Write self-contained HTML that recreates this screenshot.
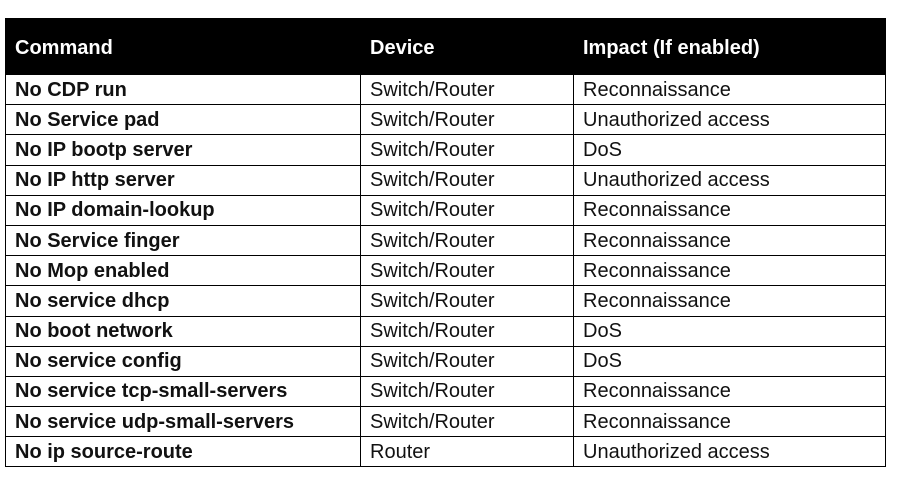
<!DOCTYPE html>
<html><head><style>
body{margin:0;background:#fff;width:905px;height:487px;overflow:hidden;font-family:"Liberation Sans",sans-serif;}
table{position:absolute;left:5px;top:18px;border-collapse:collapse;width:880px;table-layout:fixed;}
td,th{border:1px solid #000;padding:0 0 0 9px;font-size:20px;line-height:22px;text-align:left;height:29.2px;white-space:nowrap;color:#111;overflow:hidden;}
th{background:#000;color:#fff;height:53px;font-weight:bold;padding-top:2px;border-color:#000;}
td:first-child{font-weight:bold;}
</style></head><body>
<table>
<colgroup><col style="width:355px"><col style="width:213px"><col style="width:312px"></colgroup>
<tr><th>Command</th><th>Device</th><th>Impact (If enabled)</th></tr>
<tr><td>No CDP run</td><td>Switch/Router</td><td>Reconnaissance</td></tr>
<tr><td>No Service pad</td><td>Switch/Router</td><td>Unauthorized access</td></tr>
<tr><td>No IP bootp server</td><td>Switch/Router</td><td>DoS</td></tr>
<tr><td>No IP http server</td><td>Switch/Router</td><td>Unauthorized access</td></tr>
<tr><td>No IP domain-lookup</td><td>Switch/Router</td><td>Reconnaissance</td></tr>
<tr><td>No Service finger</td><td>Switch/Router</td><td>Reconnaissance</td></tr>
<tr><td>No Mop enabled</td><td>Switch/Router</td><td>Reconnaissance</td></tr>
<tr><td>No service dhcp</td><td>Switch/Router</td><td>Reconnaissance</td></tr>
<tr><td>No boot network</td><td>Switch/Router</td><td>DoS</td></tr>
<tr><td>No service config</td><td>Switch/Router</td><td>DoS</td></tr>
<tr><td>No service tcp-small-servers</td><td>Switch/Router</td><td>Reconnaissance</td></tr>
<tr><td>No service udp-small-servers</td><td>Switch/Router</td><td>Reconnaissance</td></tr>
<tr><td>No ip source-route</td><td>Router</td><td>Unauthorized access</td></tr>
</table>
</body></html>
